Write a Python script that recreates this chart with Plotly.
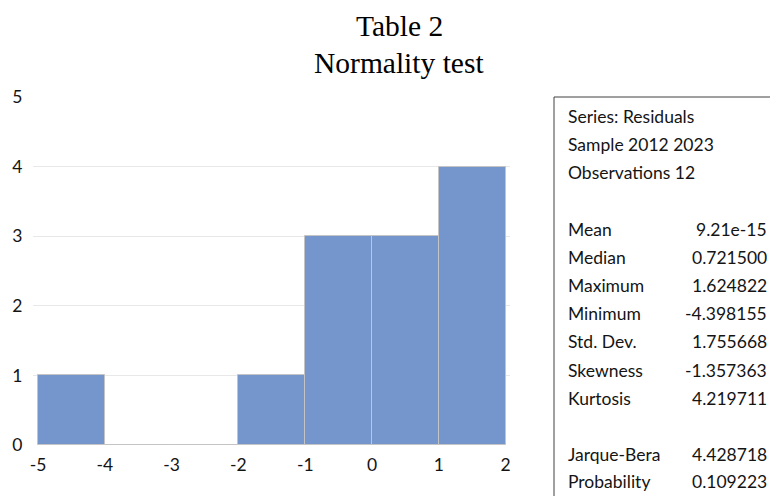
import plotly.graph_objects as go

# ---- data ----
bin_left = [-5, -4, -3, -2, -1, 0, 1]
counts = [1, 0, 0, 1, 3, 3, 4]
x_ticks = [-5, -4, -3, -2, -1, 0, 1, 2]
x_tick_text = ["-5", "-4", "-3", "-2", "-1", "0", "1", "2"]
y_ticks = [0, 1, 2, 3, 4, 5]
y_tick_text = ["0", "1", "2", "3", "4", "5"]
grid_vals = [1, 2, 3, 4]

header_lines = ["Series: Residuals", "Sample 2012 2023", "Observations 12"]
stat_labels = ["Mean", "Median", "Maximum", "Minimum", "Std. Dev.", "Skewness", "Kurtosis"]
stat_values = ["9.21e-15", "0.721500", "1.624822", "-4.398155", "1.755668", "-1.357363", "4.219711"]
test_labels = ["Jarque-Bera", "Probability"]
test_values = ["4.428718", "0.109223"]

title_lines = ["Table 2", "Normality test"]

# ---- layout geometry (pixels) ----
W, H = 770, 496
L, R, T, B = 33, 510, 97, 445

def px(x):
    return (x - L) / (R - L)

def py(y):
    return (B - y) / (B - T)

FONT = "Lato"
TXT = "#141414"
BOX_FS = 17.5

fig = go.Figure()
fig.add_trace(go.Bar(
    x=bin_left, y=counts, width=1, offset=0,
    marker=dict(color="rgb(116,150,204)", line=dict(color="#c4c4c4", width=1)),
    showlegend=False, yaxis="y",
))
# invisible trace on overlay axis to carry gridlines
fig.add_trace(go.Scatter(x=[None], y=[None], yaxis="y2", showlegend=False))

fig.update_layout(
    width=W, height=H,
    margin=dict(l=L, r=W - R, t=T, b=H - B, pad=0),
    paper_bgcolor="white", plot_bgcolor="white",
    font=dict(family=FONT, size=16, color=TXT),
    bargap=0,
    xaxis=dict(range=[-5.075, 2.065], tickvals=x_ticks, ticktext=x_tick_text,
               showgrid=False, zeroline=False,
               showline=False, ticks="outside", ticklen=4, tickcolor="rgba(0,0,0,0)",
               tickfont=dict(family=FONT, size=17.5, color=TXT)),
    yaxis=dict(range=[0, 5], tickvals=y_ticks, ticktext=y_tick_text,
               showgrid=False, zeroline=False,
               showline=False, ticks="outside", ticklen=6, tickcolor="rgba(0,0,0,0)",
               tickfont=dict(family=FONT, size=17.5, color=TXT)),
    yaxis2=dict(range=[0, 5], tickvals=grid_vals, showgrid=True, gridcolor="#e8e8e8",
                gridwidth=1, showticklabels=False, zeroline=False, overlaying="y",
                side="left", layer="below traces"),
)

annotations = []
# titles
title_y = [26, 63]
for t, yy in zip(title_lines, title_y):
    annotations.append(dict(text=t, x=px(399), y=py(yy), xref="paper", yref="paper",
                            xanchor="center", yanchor="middle", showarrow=False,
                            font=dict(family="Liberation Serif", size=29.5, color="black")))

line_px = [116, 144, 172]
for t, yy in zip(header_lines, line_px):
    annotations.append(dict(text=t, x=px(566), y=py(yy), xref="paper", yref="paper",
                            xanchor="left", yanchor="middle", showarrow=False,
                            font=dict(family=FONT, size=BOX_FS, color=TXT)))
stat_px = [229, 257, 285, 313, 341, 370, 398]
for lab, val, yy in zip(stat_labels, stat_values, stat_px):
    annotations.append(dict(text=lab, x=px(566), y=py(yy), xref="paper", yref="paper",
                            xanchor="left", yanchor="middle", showarrow=False,
                            font=dict(family=FONT, size=BOX_FS, color=TXT)))
    annotations.append(dict(text=val, x=px(769), y=py(yy), xref="paper", yref="paper",
                            xanchor="right", yanchor="middle", showarrow=False,
                            font=dict(family=FONT, size=BOX_FS, color=TXT)))
test_px = [454, 482]
for lab, val, yy in zip(test_labels, test_values, test_px):
    annotations.append(dict(text=lab, x=px(566), y=py(yy), xref="paper", yref="paper",
                            xanchor="left", yanchor="middle", showarrow=False,
                            font=dict(family=FONT, size=BOX_FS, color=TXT)))
    annotations.append(dict(text=val, x=px(769), y=py(yy), xref="paper", yref="paper",
                            xanchor="right", yanchor="middle", showarrow=False,
                            font=dict(family=FONT, size=BOX_FS, color=TXT)))

fig.update_layout(annotations=annotations)

fig.add_shape(type="rect", xref="paper", yref="paper",
              x0=px(554), x1=px(780), y0=py(97), y1=py(510),
              line=dict(color="#404040", width=1), fillcolor="rgba(0,0,0,0)")

fig.write_html("out.html", config={"displayModeBar": False},
               post_script="document.body.style.margin='0px';")
